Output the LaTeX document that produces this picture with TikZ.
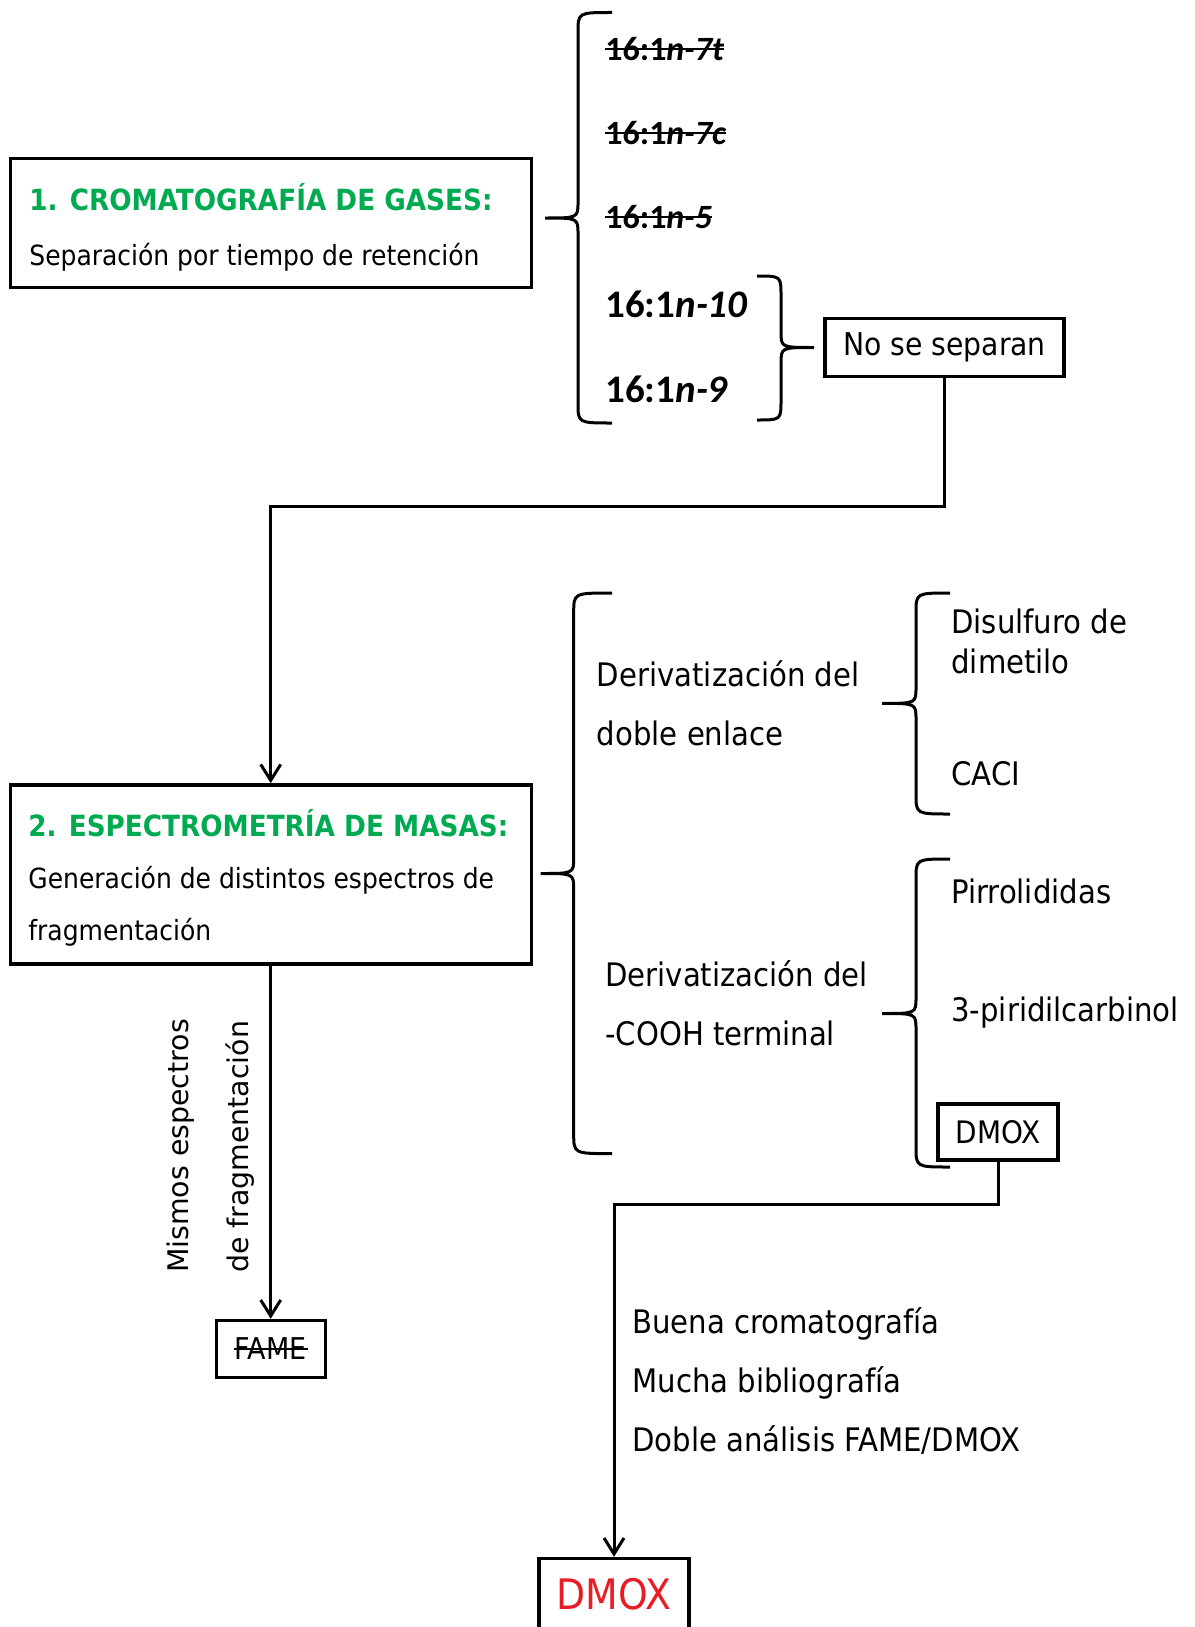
\documentclass[tikz,border=0pt]{standalone}
\usepackage{fontspec}
\setmainfont{DejaVu Sans Condensed}
\newfontfamily\carlfont{Carlito}
\newfontfamily\dvfont{DejaVu Sans}
\usetikzlibrary{arrows.meta,positioning}
\definecolor{titgreen}{RGB}{0,170,80}
\definecolor{resred}{RGB}{232,28,36}
\newcommand{\titfont}{\color{titgreen}\bfseries\fontsize{14.6}{27.5}\selectfont}
% curly brace: x, top, bottom, tip x, tip y, hook x
\newcommand{\brc}[6]{%
  \draw[brc] (#6,#2) .. controls (#1,#2) .. (#1,{#2+20})
    -- (#1,{#5-16}) .. controls (#1,#5) .. (#4,#5)
    .. controls (#1,#5) .. (#1,{#5+16})
    -- (#1,{#3-20}) .. controls (#1,#3) .. (#6,#3);}

\begin{document}
\begin{tikzpicture}[
  x=0.5pt, y=-0.5pt,
  box/.style={draw, line width=1.7pt, inner sep=0pt},
  txt/.style={inner sep=0pt, anchor=west, align=left, font=\fontsize{16.2}{29.5}\selectfont},
  itm/.style={inner sep=0pt, anchor=west, font=\carlfont\bfseries\fontsize{19.5}{20}\selectfont},
  gone/.style={itm, font=\carlfont\bfseries\fontsize{17}{18}\selectfont},
  strk/.style={line width=1.1pt},
  arr/.style={-{Straight Barb[length=8pt,width=10pt]}, line width=1.5pt},
  brc/.style={line width=1.5pt},
]
  \useasboundingbox (0,0) rectangle (1194,1627);

  % step 1
  \node[box, minimum width=260.5pt, minimum height=64.5pt] (gc) at (270.7,223) {};
  \node[txt, font=\fontsize{13.9}{27.5}\selectfont] (gctxt) at (29,227.5)
    {{\titfont 1. CROMATOGRAFÍA DE GASES:}\\Separación por tiempo de retención};

  \brc{578}{12.5}{423}{545}{218}{612}
  \node[gone] (i1) at (605,48.8) {16:1{\itshape n-7t}};
  \node[gone] (i2) at (605,132.8) {16:1{\itshape n-7c}};
  \node[gone] (i3) at (605,216.8) {16:1{\itshape n-5}};
  \node[itm] (i4) at (605,304) {16:1{\itshape n-10}};
  \node[itm] (i5) at (605,389) {16:1{\itshape n-9}};
  \foreach \i in {i1,i2,i3}
    \draw[strk] (\i.west) -- (\i.east);

  \brc{781}{276}{420}{814}{347.5}{757}
  \node[box, minimum width=119.5pt, minimum height=29pt,
        font=\fontsize{15.7}{18}\selectfont] (nosep) at (944.5,347.5) {No se separan};

  % step 2
  \node[box, minimum width=260.5pt, minimum height=89.5pt] (ms) at (270.7,874.4) {};
  \node[txt, font=\fontsize{13.9}{26}\selectfont] (mstxt) at (28,878)
    {{\titfont 2. ESPECTROMETRÍA DE MASAS:}\\Generación de distintos espectros de\\fragmentación};

  \coordinate (j1) at (0,506);
  \draw[arr] (nosep.south) -- (nosep.south |- j1) -| (ms.north);

  \brc{573.7}{593}{1153.6}{540.5}{873.5}{612}
  \node[txt] (dd) at (596.5,703.5) {Derivatización del\\doble enlace};
  \node[txt] (dc) at (605,1003.5) {Derivatización del\\-COOH terminal};

  \brc{916}{593}{814}{882}{703.4}{950}
  \node[txt, font=\fontsize{16.2}{20}\selectfont] (dms) at (951,641) {Disulfuro de\\dimetilo};
  \node[txt] (caci) at (951,774) {CACI};

  \brc{916}{859}{1167}{882}{1013.5}{950}
  \node[txt] (pirr) at (951,891) {Pirrolididas};
  \node[txt] (pico) at (951,1012.5) {3-piridilcarbinol};
  \node[box, minimum width=60pt, minimum height=28pt,
        font=\fontsize{15.5}{18}\selectfont] (dmox) at (998,1132) {DMOX};

  % outcomes
  \node[box, minimum width=54.5pt, minimum height=28.5pt,
        font=\fontsize{15}{18}\selectfont] (fame) at (270.7,1349) {FAME};
  \draw[strk] ([xshift=-18.5pt]fame.center) -- ([xshift=18.5pt]fame.center);
  \draw[arr] (ms.south) -- (fame.north);
  \node[inner sep=0pt, rotate=90, align=left, font=\dvfont\fontsize{14.2}{30}\selectfont]
    (same) at (210.5,1146) {Mismos espectros\\de fragmentación};

  \node[txt] (pros) at (632,1381) {Buena cromatografía\\Mucha bibliografía\\Doble análisis FAME/DMOX};
  \node[box, minimum width=75pt, minimum height=36pt, text=resred,
        font=\fontsize{21}{24}\selectfont] (final) at (614,1594.5) {DMOX};

  \coordinate (j2) at (0,1204.5);
  \draw[arr] (dmox.south) -- (dmox.south |- j2) -| (final.north);
\end{tikzpicture}
\end{document}
